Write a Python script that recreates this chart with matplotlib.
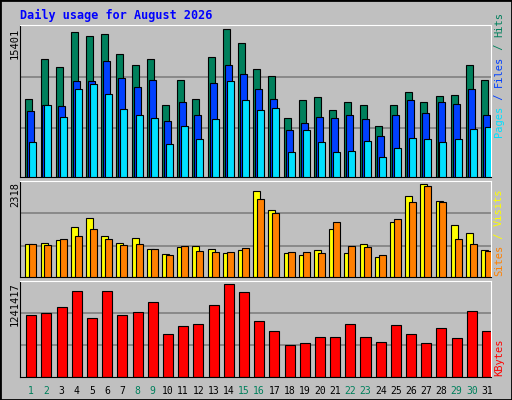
import matplotlib
matplotlib.use("Agg")
import matplotlib.pyplot as plt
import numpy as np

days = [str(d) for d in range(1, 32)]
weekend = [1, 2, 8, 9, 15, 16, 22, 23, 29, 30]
hits = [8083,12264,11428,15086,14668,14877,12786,11637,12264,7456,10069,8083,12473,15401,13936,11218,
        10487,6202,7978,8292,6933,7769,7456,5365,7456,8815,7769,8397,8501,11637,10069]
files = [6829,7456,7351,9964,9964,12055,10278,9337,10069,5888,7769,6411,9755,11637,10696,9128,
         8083,4947,5679,6306,6202,6411,6097,4320,6515,7978,6620,7769,7560,9128,6515]
pages = [3693,7456,6306,9128,9651,8605,7038,6411,6202,3484,5365,4007,6097,9964,7978,6933,
         7142,2648,4947,3693,2648,2752,3798,2125,3066,4111,4007,3693,4007,5052,5261]
sites = [832,860,932,1260,1462,1033,857,983,706,580,756,781,706,605,680,2142,
         1663,605,555,680,1210,605,832,504,1361,2016,2318,1898,1310,1109,680]
visits = [832,806,958,1033,1210,958,806,832,706,555,781,655,630,630,731,1949,
          1588,630,630,605,1361,781,756,555,1436,1865,2268,1865,958,832,655]
kbytes = [820000,847000,929000,1146000,793000,1146000,820000,861000,997000,575000,684000,711000,956000,
          1241417,1133000,752000,616000,426000,453000,535000,535000,711000,535000,467000,698000,575000,
          453000,657000,521000,874000,616000]

W, H = 512, 400
fig = plt.figure(figsize=(W/100, H/100), dpi=100, facecolor="#C0C0C0")
mono = "DejaVu Sans Mono"

def px(x0, y0, x1, y1):
    return [x0/W, 1-y1/H, (x1-x0)/W, (y1-y0)/H]

x = np.arange(31)
ec = "black"
def setup(ax, top):
    ax.set_facecolor("#C0C0C0")
    ax.set_xlim(0, 31)
    ax.set_ylim(0, top)
    ax.set_xticks([]); ax.set_yticks([])
    for yy in (top*0.325, top*0.66):
        ax.axhline(yy, color="#808080", lw=1.2, zorder=0)
    for s in ("left", "bottom"):
        ax.spines[s].set_color("black")
    for s in ("top", "right"):
        ax.spines[s].set_color("white")

ax1 = fig.add_axes(px(20, 25, 491, 177))
setup(ax1, 15401/0.972)
ax1.bar(x+0.35, hits, width=0.46, align="edge", color="#00805C", edgecolor=ec, lw=0.8, zorder=2)
ax1.bar(x+0.48, files, width=0.46, align="edge", color="#0040FF", edgecolor=ec, lw=0.8, zorder=3)
ax1.bar(x+0.61, pages, width=0.46, align="edge", color="#00E0FF", edgecolor=ec, lw=0.8, zorder=4)

ax2 = fig.add_axes(px(20, 180.5, 491, 277))
setup(ax2, 2318/0.962)
ax2.bar(x+0.35, sites, width=0.46, align="edge", color="#FFFF00", edgecolor=ec, lw=0.8, zorder=2)
ax2.bar(x+0.61, visits, width=0.46, align="edge", color="#FF8000", edgecolor=ec, lw=0.8, zorder=3)

ax3 = fig.add_axes(px(20, 280.5, 491, 376.5))
setup(ax3, 1241417/0.962)
ax3.bar(x+0.41, kbytes, width=0.66, align="edge", color="#FF0000", edgecolor=ec, lw=0.8, zorder=2)

for i, d in enumerate(days):
    c = "#00805C" if (i+1) in weekend else "black"
    ax3.text(i+0.74, -0.1, d, transform=ax3.get_xaxis_transform(), ha="center", va="top",
             fontsize=7, family=mono, color=c)

fig.text(20/W, 1-15/H, "Daily usage for August 2026", fontsize=8.5, family=mono,
         fontweight="bold", color="#0000FF", va="center", ha="left")

for ytop, s in ((28, "15401"), (182, "2318"), (282, "1241417")):
    fig.text(15/W, 1-ytop/H, s, rotation=90, fontsize=7.5, family=mono, ha="center", va="top")

fig.canvas.draw()
r = fig.canvas.get_renderer()
def vstack(xc, ybottom, parts):
    y = ybottom
    for s, c in parts:
        t = fig.text(xc/W, 1-y/H, s, rotation=90, fontsize=7.5, family=mono, color=c,
                     ha="center", va="bottom")
        h = t.get_window_extent(r).height
        y -= h
vstack(499, 137, [("Pages", "#00E0FF"), (" / ", "#0040FF"), ("Files", "#0040FF"),
                  (" / ", "#00805C"), ("Hits", "#00805C")])
vstack(499, 276, [("Sites", "#FF8000"), (" / ", "#FFFF00"), ("Visits", "#FFFF00")])
vstack(499, 376, [("KBytes", "#FF0000")])

# border
fig.patches.append(plt.Rectangle((0, 0), 1, 1, transform=fig.transFigure, fill=False,
                                 edgecolor="black", lw=2))
fig.savefig("out.png", dpi=100, facecolor=fig.get_facecolor())
